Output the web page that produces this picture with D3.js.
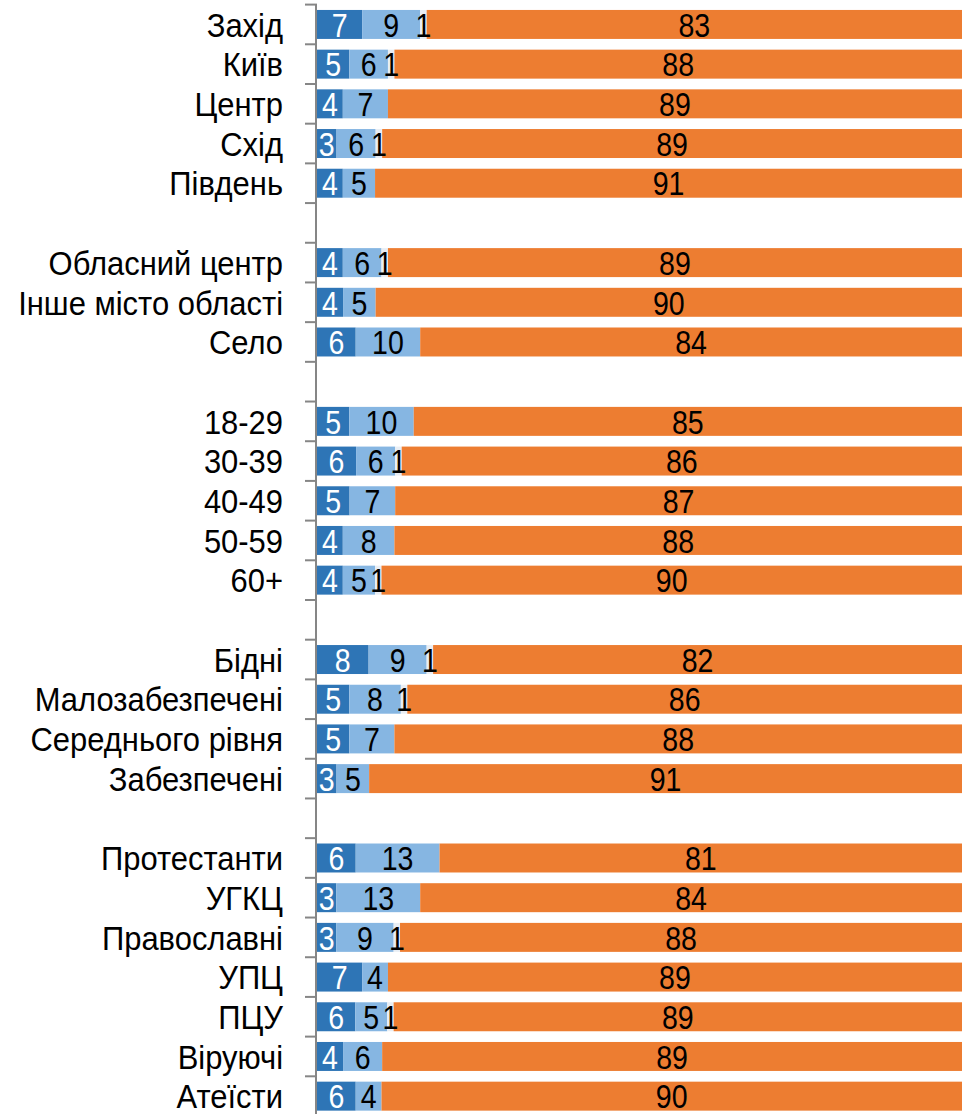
<!DOCTYPE html>
<html>
<head>
<meta charset="utf-8">
<script src="https://cdn.jsdelivr.net/npm/d3@7"></script>
<style>
  html, body { margin: 0; padding: 0; background: #ffffff; }
  svg { display: block; }
  text { font-family: "Liberation Sans", Arial, sans-serif; }
</style>
</head>
<body>
<svg id="chart" width="976" height="1114"></svg>
<script>
// ---- data ----
const categories = [
  "Захід", "Київ", "Центр", "Схід", "Південь", "",
  "Обласний центр", "Інше місто області", "Село", "",
  "18-29", "30-39", "40-49", "50-59", "60+", "",
  "Бідні", "Малозабезпечені", "Середнього рівня", "Забезпечені", "",
  "Протестанти", "УГКЦ", "Православні", "УПЦ", "ПЦУ", "Віруючі", "Атеїсти"
];
const seriesA = [7, 5, 4, 3, 4, null, 4, 4, 6, null, 5, 6, 5, 4, 4, null, 8, 5, 5, 3, null, 6, 3, 3, 7, 6, 4, 6];
const seriesB = [9, 6, 7, 6, 5, null, 6, 5, 10, null, 10, 6, 7, 8, 5, null, 9, 8, 7, 5, null, 13, 13, 9, 4, 5, 6, 4];
const seriesC = [1, 1, 0, 1, 0, null, 1, 0, 0, null, 0, 1, 0, 0, 1, null, 1, 1, 0, 0, null, 0, 0, 1, 0, 1, 0, 0];
const seriesD = [83, 88, 89, 89, 91, null, 89, 90, 84, null, 85, 86, 87, 88, 90, null, 82, 86, 88, 91, null, 81, 84, 88, 89, 89, 89, 90];
const seriesColors = ["#2E75B6", "#86B6E2", "#E9EEF4", "#ED7D31"];
const labelColors = ["#ffffff", "#000000", "#000000", "#000000"];

// ---- layout ----
const svg = d3.select("#chart");
const rows = categories.map((c, i) => ({
  key: "r" + i, name: c,
  vals: [seriesA[i], seriesB[i], seriesC[i], seriesD[i]]
}));

const pad = 0.27;
const y = d3.scaleBand()
  .domain(rows.map(r => r.key))
  .range([4.6, 1116])
  .paddingInner(pad)
  .paddingOuter(pad / 2);

const x = d3.scaleLinear().domain([0, 100]).range([317, 962]);

const fontSize = 34;
const sxNum = 0.84;
const sxLab = 0.91;

// bars
rows.forEach(r => {
  if (r.vals[0] === null) return;
  const total = d3.sum(r.vals);
  let cum = 0;
  const segs = r.vals.map((v, j) => {
    const s = { j, v, x0: cum / total * 100, x1: (cum + v) / total * 100 };
    cum += v;
    return s;
  });
  const g = svg.append("g");
  g.selectAll("rect").data(segs.filter(s => s.v > 0)).join("rect")
    .attr("x", s => x(s.x0))
    .attr("y", y(r.key))
    .attr("width", s => x(s.x1) - x(s.x0))
    .attr("height", y.bandwidth())
    .attr("fill", s => seriesColors[s.j]);
  const cy = y(r.key) + y.bandwidth() / 2;
  g.selectAll("text").data(segs.filter(s => s.v > 0)).join("text")
    .attr("transform", s => `translate(${(x(s.x0) + x(s.x1)) / 2},${cy}) scale(${sxNum},1)`)
    .attr("text-anchor", "middle")
    .attr("dy", "0.36em")
    .attr("font-size", fontSize)
    .attr("fill", s => labelColors[s.j])
    .text(s => s.v);
});

// category labels
svg.append("g").selectAll("text").data(rows.filter(r => r.name !== "")).join("text")
  .attr("transform", r => `translate(283,${y(r.key) + y.bandwidth() / 2}) scale(${sxLab},1)`)
  .attr("text-anchor", "end")
  .attr("dy", "0.36em")
  .attr("font-size", fontSize)
  .attr("fill", "#000")
  .text(r => r.name);

// axis line and boundary ticks
const step = y.step();
const bounds = rows.map(r => y(r.key) - step * pad / 2);
bounds.push(y(rows[rows.length - 1].key) + y.bandwidth() + step * pad / 2);
const axisG = svg.append("g");
axisG.selectAll("line.tick").data(bounds).join("line")
  .attr("class", "tick")
  .attr("x1", 305).attr("x2", 317)
  .attr("y1", d => d).attr("y2", d => d)
  .attr("stroke", "#868686").attr("stroke-width", 2);
axisG.append("line")
  .attr("x1", 316).attr("x2", 316)
  .attr("y1", bounds[0]).attr("y2", bounds[bounds.length - 1])
  .attr("stroke", "#868686").attr("stroke-width", 2);
</script>
</body>
</html>
